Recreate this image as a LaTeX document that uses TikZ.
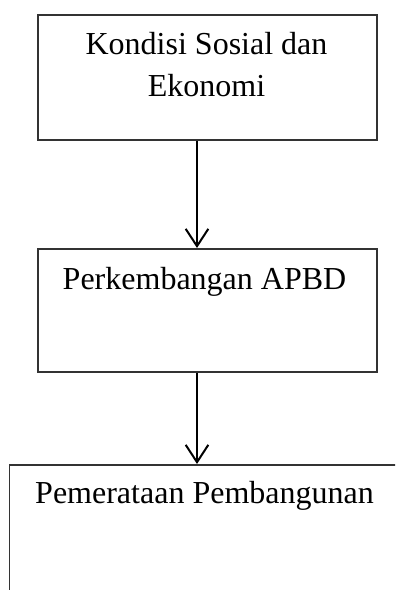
\documentclass[tikz,border=0pt]{standalone}
\usepackage{fontspec}
\setmainfont{Liberation Serif}
\usetikzlibrary{arrows.meta}

\begin{document}
\begin{tikzpicture}[x=0.375pt, y=-0.375pt,
		box/.style={draw=black!80, line width=0.6pt, rectangle, inner sep=0pt, anchor=north west},
		lbl/.style={align=center, inner sep=0pt, anchor=base, font=\fontsize{12}{15.75}\selectfont},
		flow/.style={-{Straight Barb[length=6.5pt, width=8.5pt]}, line width=0.75pt}]
		\clip (0,0) rectangle (395,590);

		\node [box, minimum width=127.1pt, minimum height=46.9pt] (kondisi) at (37,14) {};
		\node [box, minimum width=127.1pt, minimum height=46.1pt] (apbd) at (37,248) {};
		\node [box, minimum width=147pt, minimum height=60pt] (pemerataan) at (8.7,464) {};

		\node [lbl] (kondisiT) at (206.5,97) {Kondisi Sosial dan\\Ekonomi};
		\node [lbl] (apbdT) at (204.5,289) {Perkembangan APBD};
		\node [lbl] (pemerataanT) at (204.5,503) {Pemerataan Pembangunan};

		\coordinate (axis) at (197,0);
		\path[flow] (kondisi.south -| axis) edge (apbd.north -| axis);
		\path[flow] (apbd.south -| axis) edge (pemerataan.north -| axis);
	\end{tikzpicture}
\end{document}
